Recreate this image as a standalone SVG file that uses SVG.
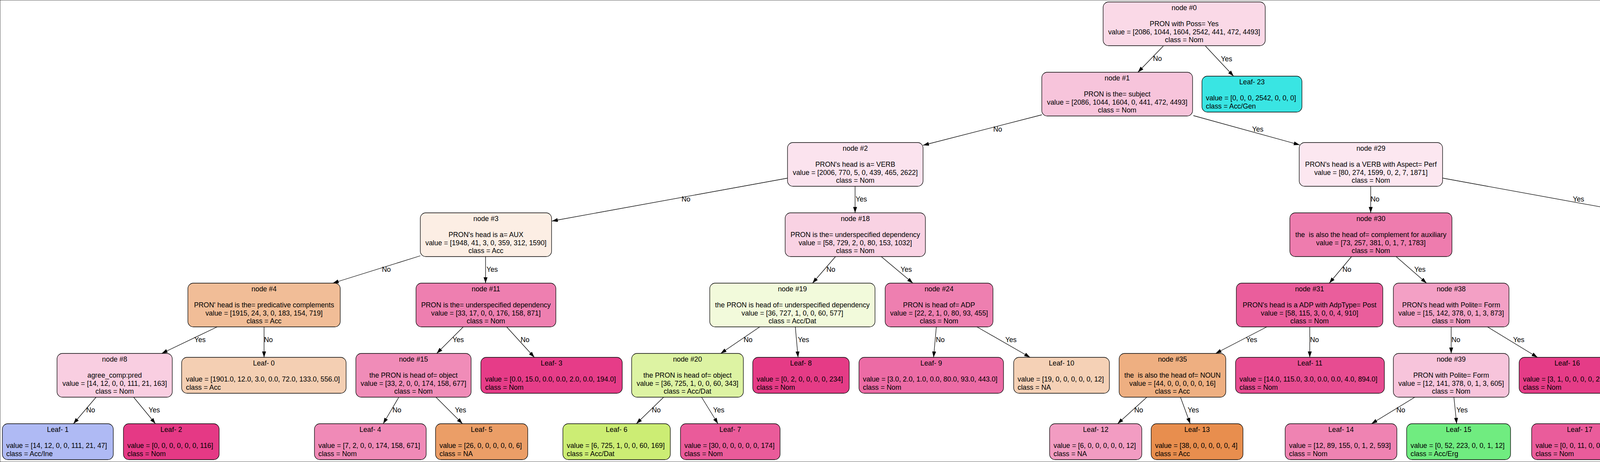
<svg xmlns="http://www.w3.org/2000/svg" width="5359" height="1183" viewBox="0 0 5359 1183">
<defs>
<marker id="ah" markerUnits="userSpaceOnUse" markerWidth="16" markerHeight="12" refX="15" refY="5" orient="auto"><path d="M0,0 L15,5 L0,10 Z" fill="#000"/></marker>
</defs>
<style>
text{font-family:"Liberation Sans",Arial,Helvetica,sans-serif;font-size:17.8px;fill:#000;white-space:pre}
.m{text-anchor:middle}
rect{stroke:#000;stroke-width:1.3}
.e line{stroke:#000;stroke-width:1.3;marker-end:url(#ah)}
</style>
<rect x="0" y="0" width="5359" height="1183" fill="#fff" stroke="none"/>
<g class="e" id="connectors">
<line x1="2978" y1="118" x2="2913" y2="185"/>
<line x1="3086" y1="118" x2="3158" y2="195"/>
<line x1="2667" y1="294" x2="2363" y2="372"/>
<line x1="3055" y1="296" x2="3327" y2="371"/>
<line x1="2017" y1="456" x2="1413" y2="566"/>
<line x1="2189" y1="477" x2="2189" y2="545"/>
<line x1="3509" y1="477" x2="3509" y2="545"/>
<line x1="3693" y1="456" x2="4345" y2="575"/>
<line x1="1076" y1="655" x2="852" y2="725"/>
<line x1="1243" y1="657" x2="1243" y2="725"/>
<line x1="2139" y1="657" x2="2080" y2="725"/>
<line x1="2256" y1="657" x2="2337" y2="725"/>
<line x1="3460" y1="657" x2="3403" y2="725"/>
<line x1="3574" y1="657" x2="3652" y2="725"/>
<line x1="4483" y1="657" x2="4483" y2="725"/>
<line x1="4618" y1="658" x2="4785" y2="725"/>
<line x1="556" y1="837" x2="414" y2="905"/>
<line x1="676" y1="837" x2="676" y2="915"/>
<line x1="1186" y1="837" x2="1118" y2="905"/>
<line x1="1297" y1="837" x2="1368" y2="915"/>
<line x1="1945" y1="837" x2="1845" y2="905"/>
<line x1="2036" y1="837" x2="2043" y2="915"/>
<line x1="2397" y1="837" x2="2390" y2="915"/>
<line x1="2501" y1="837" x2="2637" y2="915"/>
<line x1="3243" y1="837" x2="3112" y2="905"/>
<line x1="3353" y1="837" x2="3353" y2="915"/>
<line x1="3715" y1="837" x2="3715" y2="905"/>
<line x1="3808" y1="837" x2="3936" y2="915"/>
<line x1="4425" y1="837" x2="4355" y2="905"/>
<line x1="4516" y1="837" x2="4554" y2="905"/>
<line x1="4921" y1="837" x2="4921" y2="915"/>
<line x1="5020" y1="837" x2="5159" y2="915"/>
<line x1="246" y1="1017" x2="188" y2="1085"/>
<line x1="342" y1="1017" x2="398" y2="1085"/>
<line x1="1021" y1="1017" x2="981" y2="1085"/>
<line x1="1116" y1="1017" x2="1184" y2="1085"/>
<line x1="1699" y1="1017" x2="1629" y2="1085"/>
<line x1="1796" y1="1017" x2="1838" y2="1085"/>
<line x1="2936" y1="1017" x2="2861" y2="1085"/>
<line x1="3022" y1="1017" x2="3047" y2="1085"/>
<line x1="3622" y1="1017" x2="3511" y2="1085"/>
<line x1="3722" y1="1017" x2="3729" y2="1085"/>
<line x1="4213" y1="1017" x2="4115" y2="1085"/>
<line x1="4300" y1="1017" x2="4302" y2="1085"/>
<line x1="4584" y1="1017" x2="4582" y2="1085"/>
<line x1="4671" y1="1017" x2="4771" y2="1085"/>
<g class="m">
<text x="2963" y="156">No</text>
<text x="3140" y="157">Yes</text>
<text x="2554" y="337">No</text>
<text x="3220" y="337">Yes</text>
<text x="1756" y="516">No</text>
<text x="2205" y="516">Yes</text>
<text x="3520" y="516">No</text>
<text x="4041" y="516">Yes</text>
<text x="989" y="696">No</text>
<text x="1260" y="696">Yes</text>
<text x="2127" y="696">No</text>
<text x="2320" y="696">Yes</text>
<text x="3448" y="696">No</text>
<text x="3635" y="696">Yes</text>
<text x="4494" y="696">No</text>
<text x="4730" y="696">Yes</text>
<text x="512" y="876">Yes</text>
<text x="687" y="876">No</text>
<text x="1173" y="876">Yes</text>
<text x="1344" y="876">No</text>
<text x="1915" y="876">No</text>
<text x="2057" y="876">Yes</text>
<text x="2407" y="876">No</text>
<text x="2588" y="876">Yes</text>
<text x="3204" y="876">Yes</text>
<text x="3365" y="876">No</text>
<text x="3727" y="876">No</text>
<text x="3888" y="876">Yes</text>
<text x="4406" y="876">No</text>
<text x="4552" y="876">Yes</text>
<text x="4932" y="876">No</text>
<text x="5104" y="876">Yes</text>
<text x="232" y="1056">No</text>
<text x="395" y="1056">Yes</text>
<text x="1016" y="1056">No</text>
<text x="1179" y="1056">Yes</text>
<text x="1680" y="1056">No</text>
<text x="1840" y="1056">Yes</text>
<text x="2915" y="1056">No</text>
<text x="3055" y="1056">Yes</text>
<text x="3586" y="1056">No</text>
<text x="3743" y="1056">Yes</text>
<text x="4181" y="1056">No</text>
<text x="4316" y="1056">Yes</text>
<text x="4594" y="1056">No</text>
<text x="4750" y="1056">Yes</text>
</g>
</g>
<g id="node0"><rect x="2824" y="5" width="415" height="112" rx="14" fill="#fad9e7"/><g class="m"><text x="3031.5" y="26">node #0</text><text x="3031.5" y="67.2">PRON with Poss= Yes</text><text x="3031.5" y="87.5">value = [2086, 1044, 1604, 2542, 441, 472, 4493]</text><text x="3031.5" y="107.8">class = Nom</text></g></g>
<g id="node1"><rect x="2667" y="185" width="386" height="112" rx="14" fill="#f7c4db"/><g class="m"><text x="2860" y="206">node #1</text><text x="2860" y="247.2">PRON is the= subject</text><text x="2860" y="267.5">value = [2086, 1044, 1604, 0, 441, 472, 4493]</text><text x="2860" y="287.8">class = Nom</text></g></g>
<g id="leaf23"><rect x="3077" y="195" width="256" height="92" rx="14" fill="#39e5e3"/><text class="m" x="3205" y="216">Leaf- 23</text><text x="3087" y="257">value = [0, 0, 0, 2542, 0, 0, 0]</text><text x="3087" y="277.5">class = Acc/Gen</text></g>
<g id="node2"><rect x="2016" y="365" width="347" height="112" rx="14" fill="#fbe3ee"/><g class="m"><text x="2189.5" y="386">node #2</text><text x="2189.5" y="427.2">PRON's head is a= VERB</text><text x="2189.5" y="447.5">value = [2006, 770, 5, 0, 439, 465, 2622]</text><text x="2189.5" y="467.8">class = Nom</text></g></g>
<g id="node29"><rect x="3326" y="365" width="367" height="112" rx="14" fill="#fce7f0"/><g class="m"><text x="3509.5" y="386">node #29</text><text x="3509.5" y="427.2">PRON's head is a VERB with Aspect= Perf</text><text x="3509.5" y="447.5">value = [80, 274, 1599, 0, 2, 7, 1871]</text><text x="3509.5" y="467.8">class = Nom</text></g></g>
<g id="node3"><rect x="1076" y="545" width="336" height="112" rx="14" fill="#fceee4"/><g class="m"><text x="1244" y="566">node #3</text><text x="1244" y="607.2">PRON's head is a= AUX</text><text x="1244" y="627.5">value = [1948, 41, 3, 0, 359, 312, 1590]</text><text x="1244" y="647.8">class = Acc</text></g></g>
<g id="node18"><rect x="2010" y="545" width="359" height="112" rx="14" fill="#f9d2e3"/><g class="m"><text x="2189.5" y="566">node #18</text><text x="2189.5" y="607.2">PRON is the= underspecified dependency</text><text x="2189.5" y="627.5">value = [58, 729, 2, 0, 80, 153, 1032]</text><text x="2189.5" y="647.8">class = Nom</text></g></g>
<g id="node30"><rect x="3302" y="545" width="415" height="112" rx="14" fill="#ee7cae"/><g class="m"><text x="3509.5" y="566">node #30</text><text x="3509.5" y="607.2">the  is also the head of= complement for auxiliary</text><text x="3509.5" y="627.5">value = [73, 257, 381, 0, 1, 7, 1783]</text><text x="3509.5" y="647.8">class = Nom</text></g></g>
<g id="node43"><rect x="4345" y="545" width="275" height="112" rx="14" fill="#4be760"/><g class="m"><text x="4482.5" y="566">node #43</text><text x="4482.5" y="607.2">the  is also the head of= object</text><text x="4482.5" y="627.5">value = [7, 17, 1218, 0, 1, 0, 88]</text><text x="4482.5" y="647.8">class = Acc/Erg</text></g></g>
<g id="node4"><rect x="481" y="725" width="390" height="112" rx="14" fill="#f1bd97"/><g class="m"><text x="676" y="746">node #4</text><text x="676" y="787.2">PRON' head is the= predicative complements</text><text x="676" y="807.5">value = [1915, 24, 3, 0, 183, 154, 719]</text><text x="676" y="827.8">class = Acc</text></g></g>
<g id="node11"><rect x="1065" y="725" width="358" height="112" rx="14" fill="#ee7fb0"/><g class="m"><text x="1244" y="746">node #11</text><text x="1244" y="787.2">PRON is the= underspecified dependency</text><text x="1244" y="807.5">value = [33, 17, 0, 0, 176, 158, 871]</text><text x="1244" y="827.8">class = Nom</text></g></g>
<g id="node19"><rect x="1817" y="725" width="423" height="112" rx="14" fill="#f2fadb"/><g class="m"><text x="2028.5" y="746">node #19</text><text x="2028.5" y="787.2">the PRON is head of= underspecified dependency</text><text x="2028.5" y="807.5">value = [36, 727, 1, 0, 0, 60, 577]</text><text x="2028.5" y="827.8">class = Acc/Dat</text></g></g>
<g id="node24"><rect x="2266" y="725" width="276" height="112" rx="14" fill="#ee7fb0"/><g class="m"><text x="2404" y="746">node #24</text><text x="2404" y="787.2">PRON is head of= ADP</text><text x="2404" y="807.5">value = [22, 2, 1, 0, 80, 93, 455]</text><text x="2404" y="827.8">class = Nom</text></g></g>
<g id="node31"><rect x="3165" y="725" width="375" height="112" rx="14" fill="#ea5e9c"/><g class="m"><text x="3352.5" y="746">node #31</text><text x="3352.5" y="787.2">PRON's head is a ADP with AdpType= Post</text><text x="3352.5" y="807.5">value = [58, 115, 3, 0, 0, 4, 910]</text><text x="3352.5" y="827.8">class = Nom</text></g></g>
<g id="node38"><rect x="3567" y="725" width="296" height="112" rx="14" fill="#f3a0c5"/><g class="m"><text x="3715" y="746">node #38</text><text x="3715" y="787.2">PRON's head with Polite= Form</text><text x="3715" y="807.5">value = [15, 142, 378, 0, 1, 3, 873]</text><text x="3715" y="827.8">class = Nom</text></g></g>
<g id="node44"><rect x="4331" y="725" width="303" height="112" rx="14" fill="#d2f9d8"/><g class="m"><text x="4482.5" y="746">node #44</text><text x="4482.5" y="787.2">the  is also the head of= compound</text><text x="4482.5" y="807.5">value = [3, 14, 112, 0, 0, 0, 83]</text><text x="4482.5" y="827.8">class = Acc/Erg</text></g></g>
<g id="node51"><rect x="4721" y="725" width="399" height="112" rx="14" fill="#3be552"/><g class="m"><text x="4920.5" y="746">node #51</text><text x="4920.5" y="787.2">PRON  is a subject  of VERB with Polite= Form</text><text x="4920.5" y="807.5">value = [4, 3, 1106, 0, 1, 0, 5]</text><text x="4920.5" y="827.8">class = Acc/Erg</text></g></g>
<g id="node8"><rect x="146" y="905" width="295" height="112" rx="14" fill="#f9cee1"/><g class="m"><text x="293.5" y="926">node #8</text><text x="293.5" y="967.2">agree_comp:pred</text><text x="293.5" y="987.5">value = [14, 12, 0, 0, 111, 21, 163]</text><text x="293.5" y="1007.8">class = Nom</text></g></g>
<g id="leaf0"><rect x="465" y="915" width="421" height="92" rx="14" fill="#f4cfb3"/><text class="m" x="675.5" y="936">Leaf- 0</text><text x="476" y="977">value = [1901.0, 12.0, 3.0, 0.0, 72.0, 133.0, 556.0]</text><text x="476" y="997.5">class = Acc</text></g>
<g id="node15"><rect x="911" y="905" width="295" height="112" rx="14" fill="#f08cb8"/><g class="m"><text x="1058.5" y="926">node #15</text><text x="1058.5" y="967.2">the PRON is head of= object</text><text x="1058.5" y="987.5">value = [33, 2, 0, 0, 174, 158, 677]</text><text x="1058.5" y="1007.8">class = Nom</text></g></g>
<g id="leaf3"><rect x="1231" y="915" width="362" height="92" rx="14" fill="#e63c88"/><text class="m" x="1412" y="936">Leaf- 3</text><text x="1242" y="977">value = [0.0, 15.0, 0.0, 0.0, 2.0, 0.0, 194.0]</text><text x="1242" y="997.5">class = Nom</text></g>
<g id="node20"><rect x="1617" y="905" width="286" height="112" rx="14" fill="#ddf3a3"/><g class="m"><text x="1760" y="926">node #20</text><text x="1760" y="967.2">the PRON is head of= object</text><text x="1760" y="987.5">value = [36, 725, 1, 0, 0, 60, 343]</text><text x="1760" y="1007.8">class = Acc/Dat</text></g></g>
<g id="leaf8"><rect x="1927" y="915" width="247" height="92" rx="14" fill="#e53b86"/><text class="m" x="2050.5" y="936">Leaf- 8</text><text x="1937" y="977">value = [0, 2, 0, 0, 0, 0, 234]</text><text x="1937" y="997.5">class = Nom</text></g>
<g id="leaf9"><rect x="2199" y="915" width="370" height="92" rx="14" fill="#ec6ba5"/><text class="m" x="2384" y="936">Leaf- 9</text><text x="2209" y="977">value = [3.0, 2.0, 1.0, 0.0, 80.0, 93.0, 443.0]</text><text x="2209" y="997.5">class = Nom</text></g>
<g id="leaf10"><rect x="2595" y="915" width="245" height="92" rx="14" fill="#f5d1b6"/><text class="m" x="2717.5" y="936">Leaf- 10</text><text x="2605" y="977">value = [19, 0, 0, 0, 0, 0, 12]</text><text x="2605" y="997.5">class = NA</text></g>
<g id="node35"><rect x="2865" y="905" width="273" height="112" rx="14" fill="#eeaf81"/><g class="m"><text x="3001.5" y="926">node #35</text><text x="3001.5" y="967.2">the  is also the head of= NOUN</text><text x="3001.5" y="987.5">value = [44, 0, 0, 0, 0, 0, 16]</text><text x="3001.5" y="1007.8">class = Acc</text></g></g>
<g id="leaf11"><rect x="3163" y="915" width="381" height="92" rx="14" fill="#e74c91"/><text class="m" x="3353.5" y="936">Leaf- 11</text><text x="3173" y="977">value = [14.0, 115.0, 3.0, 0.0, 0.0, 4.0, 894.0]</text><text x="3173" y="997.5">class = Nom</text></g>
<g id="node39"><rect x="3567" y="905" width="296" height="112" rx="14" fill="#f7c4db"/><g class="m"><text x="3715" y="926">node #39</text><text x="3715" y="967.2">PRON with Polite= Form</text><text x="3715" y="987.5">value = [12, 141, 378, 0, 1, 3, 605]</text><text x="3715" y="1007.8">class = Nom</text></g></g>
<g id="leaf16"><rect x="3889" y="915" width="246" height="92" rx="14" fill="#e53c87"/><text class="m" x="4012" y="936">Leaf- 16</text><text x="3899" y="977">value = [3, 1, 0, 0, 0, 0, 268]</text><text x="3899" y="997.5">class = Nom</text></g>
<g id="node45"><rect x="4159" y="905" width="275" height="112" rx="14" fill="#ec70a7"/><g class="m"><text x="4296.5" y="926">node #45</text><text x="4296.5" y="967.2">the  is also the head of= subject</text><text x="4296.5" y="987.5">value = [0, 9, 11, 0, 0, 0, 63]</text><text x="4296.5" y="1007.8">class = Nom</text></g></g>
<g id="node48"><rect x="4460" y="905" width="256" height="112" rx="14" fill="#6cec7d"/><g class="m"><text x="4588" y="926">node #48</text><text x="4588" y="967.2">the  is also the head of= ADJ</text><text x="4588" y="987.5">value = [3, 5, 101, 0, 0, 0, 20]</text><text x="4588" y="1007.8">class = Acc/Erg</text></g></g>
<g id="leaf21"><rect x="4741" y="915" width="360" height="92" rx="14" fill="#3be551"/><text class="m" x="4921" y="936">Leaf- 21</text><text x="4751" y="977">value = [4.0, 3.0, 1105.0, 0.0, 1.0, 0.0, 1.0]</text><text x="4751" y="997.5">class = Acc/Erg</text></g>
<g id="leaf22"><rect x="5127" y="915" width="225" height="92" rx="14" fill="#ec6aa4"/><text class="m" x="5239.5" y="936">Leaf- 22</text><text x="5137" y="977">value = [0, 0, 1, 0, 0, 0, 4]</text><text x="5137" y="997.5">class = NA</text></g>
<g id="leaf1"><rect x="6" y="1085" width="284" height="92" rx="14" fill="#afbaf4"/><text class="m" x="148" y="1106">Leaf- 1</text><text x="16" y="1147">value = [14, 12, 0, 0, 111, 21, 47]</text><text x="16" y="1167.5">class = Acc/Ine</text></g>
<g id="leaf2"><rect x="316" y="1085" width="245" height="92" rx="14" fill="#e53985"/><text class="m" x="438.5" y="1106">Leaf- 2</text><text x="326" y="1147">value = [0, 0, 0, 0, 0, 0, 116]</text><text x="326" y="1167.5">class = Nom</text></g>
<g id="leaf4"><rect x="805" y="1085" width="286" height="92" rx="14" fill="#f08ab7"/><text class="m" x="948" y="1106">Leaf- 4</text><text x="815" y="1147">value = [7, 2, 0, 0, 174, 158, 671]</text><text x="815" y="1167.5">class = Nom</text></g>
<g id="leaf5"><rect x="1115" y="1085" width="236" height="92" rx="14" fill="#eb9e67"/><text class="m" x="1233" y="1106">Leaf- 5</text><text x="1125" y="1147">value = [26, 0, 0, 0, 0, 0, 6]</text><text x="1125" y="1167.5">class = NA</text></g>
<g id="leaf6"><rect x="1441" y="1085" width="275" height="92" rx="14" fill="#cced74"/><text class="m" x="1578.5" y="1106">Leaf- 6</text><text x="1451" y="1147">value = [6, 725, 1, 0, 0, 60, 169]</text><text x="1451" y="1167.5">class = Acc/Dat</text></g>
<g id="leaf7"><rect x="1742" y="1085" width="255" height="92" rx="14" fill="#ea5b9a"/><text class="m" x="1869.5" y="1106">Leaf- 7</text><text x="1752" y="1147">value = [30, 0, 0, 0, 0, 0, 174]</text><text x="1752" y="1167.5">class = Nom</text></g>
<g id="leaf12"><rect x="2687" y="1085" width="236" height="92" rx="14" fill="#f29cc2"/><text class="m" x="2805" y="1106">Leaf- 12</text><text x="2697" y="1147">value = [6, 0, 0, 0, 0, 0, 12]</text><text x="2697" y="1167.5">class = NA</text></g>
<g id="leaf13"><rect x="2947" y="1085" width="235" height="92" rx="14" fill="#e88e4e"/><text class="m" x="3064.5" y="1106">Leaf- 13</text><text x="2957" y="1147">value = [38, 0, 0, 0, 0, 0, 4]</text><text x="2957" y="1167.5">class = Acc</text></g>
<g id="leaf14"><rect x="3290" y="1085" width="286" height="92" rx="14" fill="#ef83b2"/><text class="m" x="3433" y="1106">Leaf- 14</text><text x="3300" y="1147">value = [12, 89, 155, 0, 1, 2, 593]</text><text x="3300" y="1167.5">class = Nom</text></g>
<g id="leaf15"><rect x="3601" y="1085" width="266" height="92" rx="14" fill="#70ec80"/><text class="m" x="3734" y="1106">Leaf- 15</text><text x="3611" y="1147">value = [0, 52, 223, 0, 0, 1, 12]</text><text x="3611" y="1167.5">class = Acc/Erg</text></g>
<g id="leaf17"><rect x="3921" y="1085" width="246" height="92" rx="14" fill="#ea5c9b"/><text class="m" x="4044" y="1106">Leaf- 17</text><text x="3931" y="1147">value = [0, 0, 11, 0, 0, 0, 62]</text><text x="3931" y="1167.5">class = Nom</text></g>
<g id="leaf18"><rect x="4193" y="1085" width="225" height="92" rx="14" fill="#bee84f"/><text class="m" x="4305.5" y="1106">Leaf- 18</text><text x="4203" y="1147">value = [0, 9, 0, 0, 0, 0, 1]</text><text x="4203" y="1167.5">class = NA</text></g>
<g id="leaf19"><rect x="4461" y="1085" width="234" height="92" rx="14" fill="#4fe864"/><text class="m" x="4578" y="1106">Leaf- 19</text><text x="4471" y="1147">value = [3, 4, 99, 0, 0, 0, 5]</text><text x="4471" y="1167.5">class = Acc/Erg</text></g>
<g id="leaf20"><rect x="4721" y="1085" width="235" height="92" rx="14" fill="#ea5e9c"/><text class="m" x="4838.5" y="1106">Leaf- 20</text><text x="4731" y="1147">value = [0, 1, 2, 0, 0, 0, 15]</text><text x="4731" y="1167.5">class = NA</text></g>
</svg>
